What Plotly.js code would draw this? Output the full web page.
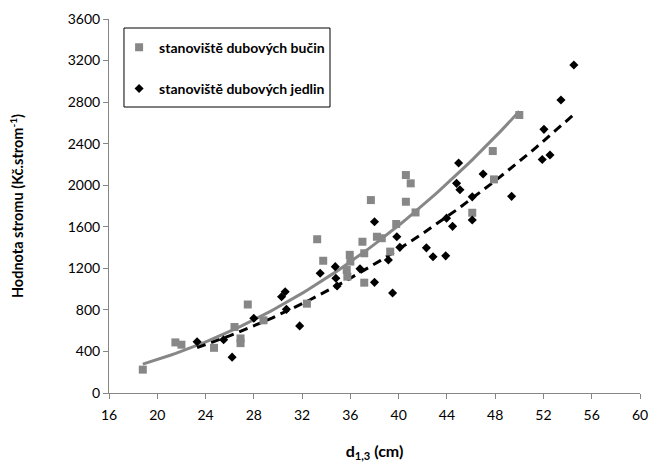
<!DOCTYPE html>
<html>
<head>
<meta charset="utf-8">
<script src="https://cdn.plot.ly/plotly-3.0.1.min.js"></script>
<style>html,body{margin:0;padding:0;background:#fff;}#chart{width:652px;height:462px;}</style>
</head>
<body>
<div id="chart"></div>
<script>
// stanoviště dubových bučin (grey squares)
const bucinD = [18.8, 21.5, 22.0, 24.7, 26.4, 26.9, 26.9, 27.5, 28.8, 32.4, 33.25, 33.75, 35.7, 35.75, 35.95, 36.0, 37.0, 37.15, 37.15, 37.7, 38.2, 38.6, 39.3, 39.8, 40.6, 40.6, 41.0, 41.4, 46.1, 47.8, 47.9, 50.0];
const bucinV = [225, 487, 465, 435, 635, 525, 480, 852, 700, 860, 1480, 1273, 1184, 1120, 1330, 1265, 1456, 1345, 1062, 1857, 1504, 1490, 1361, 1627, 2098, 1841, 2018, 1738, 1735, 2329, 2056, 2676];
// stanoviště dubových jedlin (black diamonds)
const jedlinD = [23.3, 25.5, 26.2, 28.0, 30.3, 30.6, 30.7, 31.8, 33.5, 34.75, 34.8, 34.9, 36.8, 38.0, 38.0, 39.15, 39.5, 39.85, 40.1, 42.3, 42.85, 43.9, 43.97, 44.47, 44.8, 45.08, 44.97, 46.1, 46.1, 47.0, 49.36, 51.9, 52.54, 52.04, 53.45, 54.52];
const jedlinV = [494, 512, 345, 719, 927, 975, 805, 646, 1152, 1216, 1104, 1030, 1195, 1649, 1065, 1280, 963, 1504, 1402, 1397, 1312, 1320, 1683, 1604, 2018, 1957, 2214, 1888, 1665, 2108, 1893, 2248, 2291, 2538, 2820, 3157];

const seriesNames = ['stanoviště dubových bučin', 'stanoviště dubových jedlin'];
const xTicks = [16, 20, 24, 28, 32, 36, 40, 44, 48, 52, 56, 60];
const yTicks = [0, 400, 800, 1200, 1600, 2000, 2400, 2800, 3200, 3600];

// power trendline (least squares in log space, like a spreadsheet power trendline)
function powerFit(xs, ys) {
  const n = xs.length;
  let sx = 0, sy = 0, sxx = 0, sxy = 0;
  for (let i = 0; i < n; i++) {
    const lx = Math.log(xs[i]), ly = Math.log(ys[i]);
    sx += lx; sy += ly; sxx += lx * lx; sxy += lx * ly;
  }
  const b = (n * sxy - sx * sy) / (n * sxx - sx * sx);
  const a = Math.exp((sy - b * sx) / n);
  const xmin = Math.min(...xs), xmax = Math.max(...xs);
  const cx = [], cy = [];
  const steps = 80;
  for (let i = 0; i <= steps; i++) {
    const x = xmin + (xmax - xmin) * i / steps;
    cx.push(x); cy.push(a * Math.pow(x, b));
  }
  return {x: cx, y: cy};
}
const fitB = powerFit(bucinD, bucinV);
const fitJ = powerFit(jedlinD, jedlinV);

const grey = '#878787';
const font = 'Lato, "Open Sans", sans-serif';

const traces = [
  {x: fitB.x, y: fitB.y, mode: 'lines', line: {color: grey, width: 3}, showlegend: false, hoverinfo: 'skip'},
  {x: fitJ.x, y: fitJ.y, mode: 'lines', line: {color: '#000', width: 3, dash: '9px,6px'}, showlegend: false, hoverinfo: 'skip'},
  {x: bucinD, y: bucinV, mode: 'markers', name: seriesNames[0], legendgroup: 'a',
   marker: {symbol: 'square', size: 8, color: grey}},
  {x: jedlinD, y: jedlinV, mode: 'markers', name: seriesNames[1], legendgroup: 'b',
   marker: {symbol: 'diamond', size: 7, color: '#000'}}
];

const layout = {
  width: 652, height: 462,
  margin: {l: 109, r: 12, t: 19, b: 69},
  paper_bgcolor: '#fff', plot_bgcolor: '#fff',
  font: {family: font, size: 14, color: '#000'},
  showlegend: true,
  shapes: [{
    type: 'rect', xref: 'paper', yref: 'paper', layer: 'above',
    x0: 0.0282, x1: 0.4162, y0: 0.7647, y1: 0.9759,
    line: {color: '#000', width: 1}, fillcolor: '#fff'
  }],
  legend: {
    x: 0.019, y: 0.966, xanchor: 'left', yanchor: 'top',
    borderwidth: 0, bgcolor: 'rgba(0,0,0,0)',
    font: {family: font, size: 14, color: '#000', weight: 'bold'},
    traceorder: 'grouped', tracegroupgap: 20,
    itemwidth: 30
  },
  xaxis: {
    range: [16, 60], tickvals: xTicks, ticktext: xTicks.map(String),
    showgrid: false, zeroline: false, showline: true, linecolor: '#868686', linewidth: 1,
    ticks: 'outside', ticklen: 5, tickcolor: '#868686',
    ticklabelstandoff: 4,
    tickfont: {family: font, size: 14, color: '#000'},
    title: {text: '<b>d<sub>1,3</sub> (cm)</b>', font: {family: font, size: 16, color: '#000'}, standoff: 26}
  },
  yaxis: {
    range: [0, 3600], tickvals: yTicks, ticktext: yTicks.map(String),
    showgrid: false, zeroline: false, showline: true, linecolor: '#868686', linewidth: 1,
    ticks: 'outside', ticklen: 5, tickcolor: '#868686',
    tickfont: {family: font, size: 14, color: '#000'},
    title: {text: '<b>Hodnota stromu (Kč.strom<sup>-1</sup>)</b>', font: {family: font, size: 14.5, color: '#000'}, standoff: 40}
  }
};

Plotly.newPlot('chart', traces, layout, {displayModeBar: false, staticPlot: true});
</script>
</body>
</html>
